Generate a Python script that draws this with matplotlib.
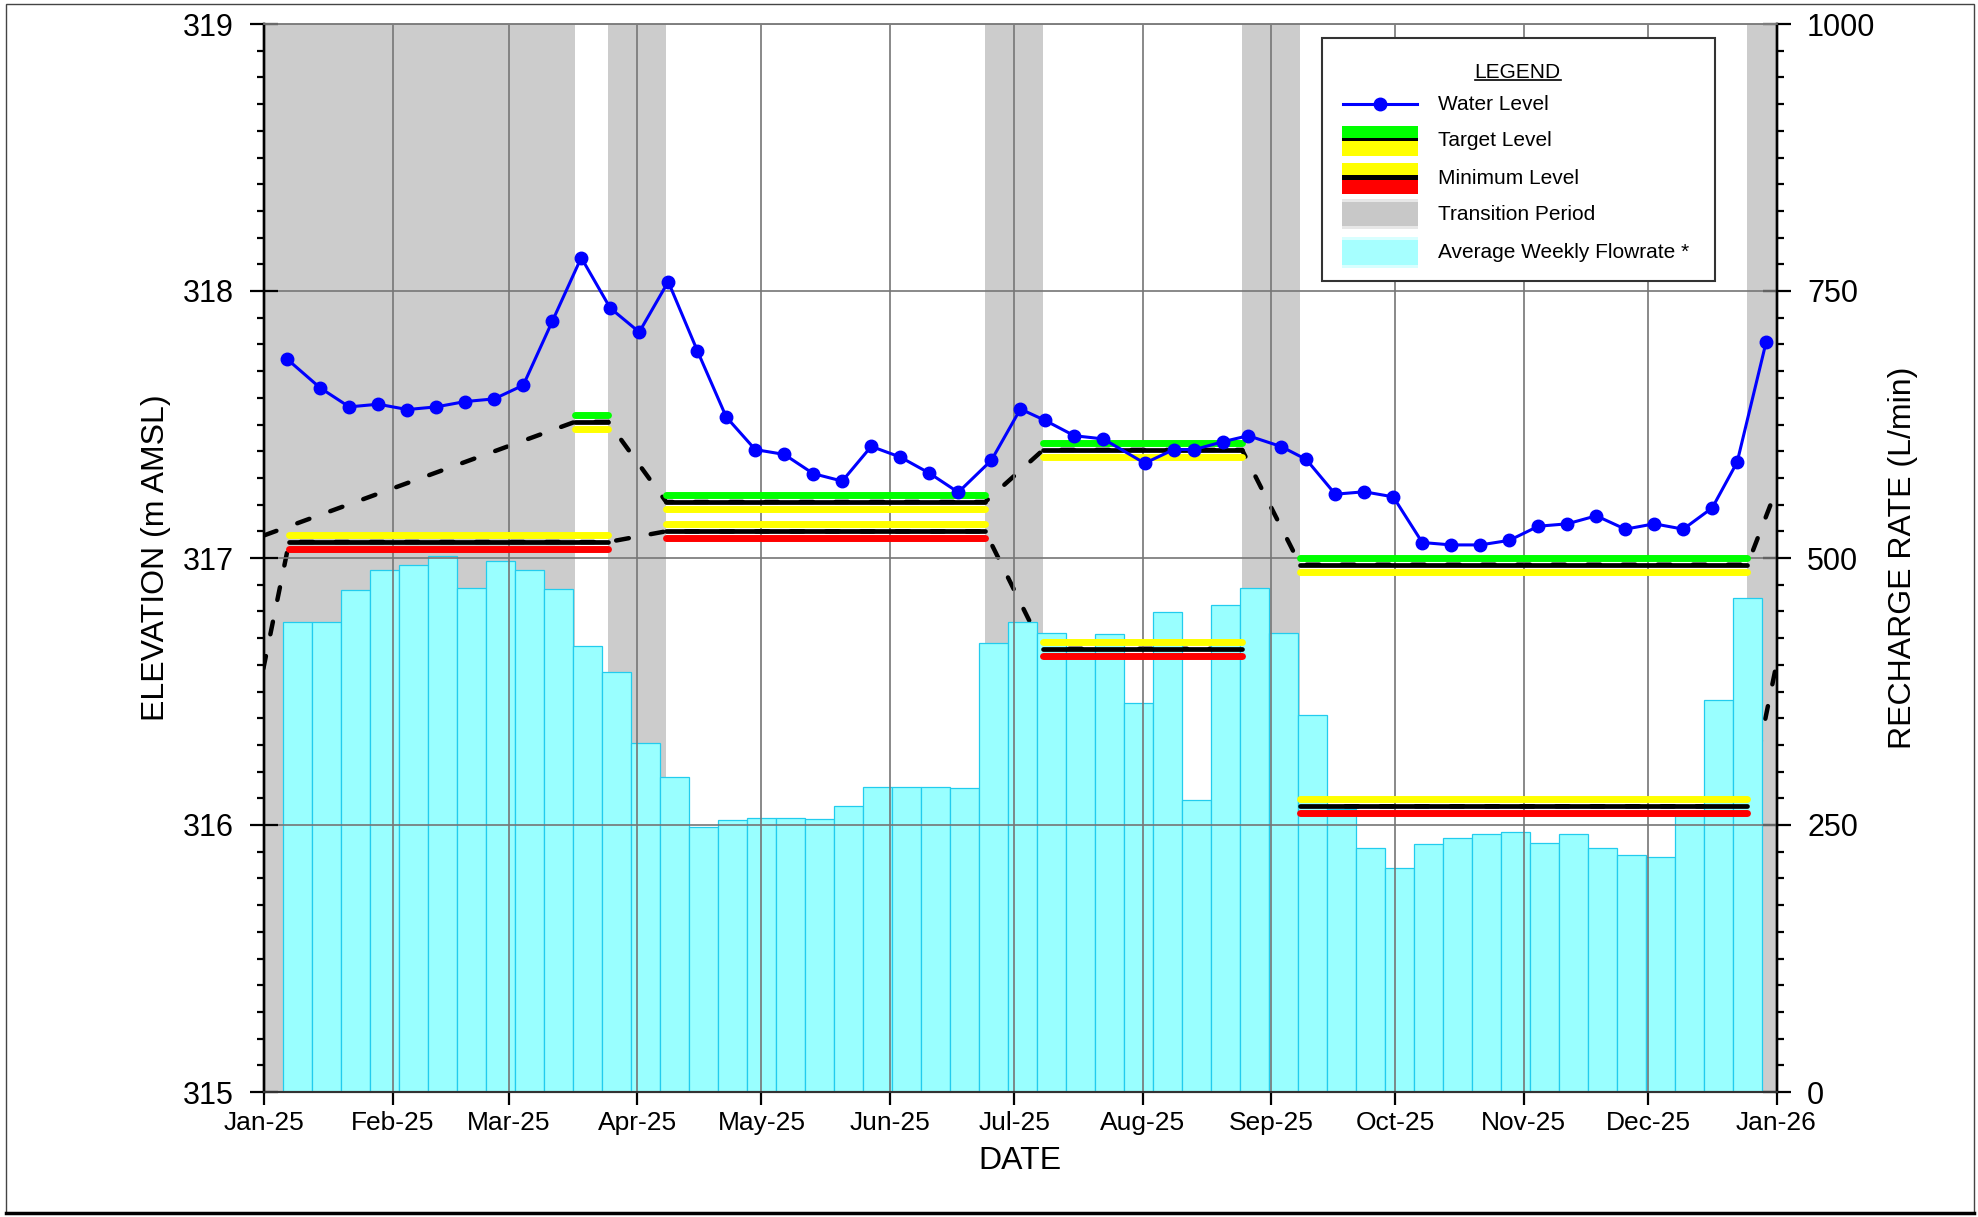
#! /usr/bin/env python3

import pandas as pd
import matplotlib
matplotlib.use('Agg')
import matplotlib.pyplot as plt
import matplotlib.dates as mdates
from matplotlib.patches import Rectangle
from matplotlib.lines import Line2D
from matplotlib.ticker import MultipleLocator
from matplotlib.transforms import offset_copy

plt.rcParams['font.family'] = ['Liberation Sans', 'DejaVu Sans']

# weekly water level readings (m AMSL)
level_dates = ['2025-01-06', '2025-01-14', '2025-01-21', '2025-01-28', '2025-02-04',
               '2025-02-11', '2025-02-18', '2025-02-25', '2025-03-04', '2025-03-11',
               '2025-03-18', '2025-03-25', '2025-04-01', '2025-04-08', '2025-04-15',
               '2025-04-22', '2025-04-29', '2025-05-06', '2025-05-13', '2025-05-20',
               '2025-05-27', '2025-06-03', '2025-06-10', '2025-06-17', '2025-06-25',
               '2025-07-02', '2025-07-08', '2025-07-15', '2025-07-22', '2025-08-01',
               '2025-08-08', '2025-08-13', '2025-08-20', '2025-08-26', '2025-09-03',
               '2025-09-09', '2025-09-16', '2025-09-23', '2025-09-30', '2025-10-07',
               '2025-10-14', '2025-10-21', '2025-10-28', '2025-11-04', '2025-11-11',
               '2025-11-18', '2025-11-25', '2025-12-02', '2025-12-09', '2025-12-16',
               '2025-12-22', '2025-12-29']
level_values = [317.745, 317.637, 317.566, 317.576, 317.556,
                317.566, 317.586, 317.596, 317.647, 317.886,
                318.125, 317.936, 317.846, 318.035, 317.777,
                317.528, 317.406, 317.388, 317.316, 317.288,
                317.418, 317.378, 317.318, 317.246, 317.366,
                317.558, 317.515, 317.458, 317.446, 317.355,
                317.406, 317.406, 317.436, 317.458, 317.417,
                317.369, 317.239, 317.248, 317.229, 317.058,
                317.049, 317.049, 317.066, 317.119, 317.128,
                317.158, 317.108, 317.128, 317.108, 317.188,
                317.359, 317.809]

# average weekly recharge flowrate (L/min), weeks starting on Sunday
week_starts = pd.date_range('2025-01-05', periods=51, freq='7D')
flow_rates = [440, 440, 470, 489, 493, 502, 472, 497, 489, 471,
              418, 393, 327, 295, 248, 255, 257, 257, 256, 268,
              286, 286, 286, 285, 420, 440, 430, 416, 429, 364,
              449, 273, 456, 472, 430, 353, 265, 228, 210, 232,
              238, 242, 243, 233, 242, 228, 222, 220, 262, 367,
              463]

# transition periods
transition_start = ['2025-01-01', '2025-03-25', '2025-06-24', '2025-08-25', '2025-12-25']
transition_end = ['2025-03-17', '2025-04-08', '2025-07-08', '2025-09-08', '2026-01-01']

# target and minimum levels per operating period
target_start = ['2025-03-17', '2025-04-08', '2025-07-08', '2025-09-08']
target_end = ['2025-03-25', '2025-06-24', '2025-08-25', '2025-12-25']
target_level = [317.51, 317.21, 317.405, 316.975]
minimum_start = ['2025-01-07', '2025-04-08', '2025-07-08', '2025-09-08']
minimum_end = ['2025-03-25', '2025-06-24', '2025-08-25', '2025-12-25']
minimum_level = [317.06, 317.10, 316.66, 316.07]

# dashed paths of the levels through the transitions
target_path_dates = ['2025-01-01', '2025-03-17', '2025-03-25', '2025-04-08', '2025-06-24',
                     '2025-07-08', '2025-08-25', '2025-09-08', '2025-12-25', '2026-01-07']
target_path_values = [317.085, 317.51, 317.51, 317.21, 317.21,
                      317.405, 317.405, 316.975, 316.975, 317.5]
minimum_path_dates = ['2024-12-25', '2025-01-07', '2025-03-25', '2025-04-08', '2025-06-24',
                      '2025-07-08', '2025-08-25', '2025-09-08', '2025-12-25', '2026-01-07']
minimum_path_values = [316.07, 317.06, 317.06, 317.10, 317.10,
                       316.66, 316.66, 316.07, 316.07, 317.06]

W, H = 1978, 1217
GRAY = '#CCCCCC'
CYAN = '#99FFFF'


def to_num(dates, shift_hours=0):
    return mdates.date2num(pd.to_datetime(dates) + pd.Timedelta(hours=shift_hours))


def pos(x, y):
    # pixel position (from top-left) to figure fraction
    return x / W, 1 - y / H


fig = plt.figure(figsize=(W / 100, H / 100), dpi=100)
ax = fig.add_axes([264.3 / W, 1 - 1092 / H, 1512.2 / W, 1068 / H])
ax2 = ax.twinx()
ax.set_zorder(ax2.get_zorder() + 1)
ax.patch.set_visible(False)
ax2.patch.set_visible(True)
ax2.patch.set_facecolor('white')

x0 = mdates.date2num(pd.Timestamp('2025-01-01'))
x1 = mdates.date2num(pd.Timestamp('2026-01-01'))

# shaded transitions, dashed level paths and flow bars on the lower axes
for s, e in zip(transition_start, transition_end):
    ax2.axvspan(to_num([s])[0], to_num([e])[0], color=GRAY, lw=0, zorder=0.5)

for d, v in [(target_path_dates, target_path_values), (minimum_path_dates, minimum_path_values)]:
    ax2.plot(to_num(d), v, color='black', lw=3.2, linestyle=(0, (2.9, 5.0)),
             dash_capstyle='round', transform=ax.transData, zorder=0.8)

ax2.bar(to_num(week_starts, 12), flow_rates, width=7, align='edge',
        color=CYAN, edgecolor='#22CCEE', linewidth=0.9, zorder=1)

# level bands on the upper axes
up = offset_copy(ax.transData, fig=fig, y=7, units='dots')
down = offset_copy(ax.transData, fig=fig, y=-7, units='dots')


def draw_band(starts, ends, levels, top_color, bottom_color):
    for s, e, lev in zip(starts, ends, levels):
        xs = to_num([s, e])
        ax.plot(xs, [lev, lev], color=top_color, lw=5.0, solid_capstyle='round',
                transform=up, zorder=3)
        ax.plot(xs, [lev, lev], color=bottom_color, lw=5.0, solid_capstyle='round',
                transform=down, zorder=3)
        ax.plot(xs, [lev, lev], color='black', lw=3.4, solid_capstyle='round', zorder=3.2)


draw_band(target_start, target_end, target_level, '#00FF00', '#FFFF00')
draw_band(minimum_start, minimum_end, minimum_level, '#FFFF00', '#FF0000')

ax.plot(to_num(level_dates, 12), level_values, '-o', color='#0000FF', lw=2.2,
        markersize=9, zorder=5)

# axes setup
ax.set_xlim(x0, x1)
ax.set_ylim(315, 319)
ax2.set_ylim(0, 1000)
ax.xaxis.set_major_locator(mdates.MonthLocator())
ax.xaxis.set_major_formatter(mdates.DateFormatter('%b-%y'))
ax.yaxis.set_major_locator(MultipleLocator(1))
ax.yaxis.set_minor_locator(MultipleLocator(0.1))
ax2.yaxis.set_major_locator(MultipleLocator(250))
ax2.yaxis.set_minor_locator(MultipleLocator(25))

ax.grid(True, which='major', color='#767676', lw=1.2)

ax.tick_params(axis='y', which='major', direction='inout', length=20, width=1.6,
               labelsize=22, pad=12)
ax.tick_params(axis='y', which='minor', direction='out', length=5, width=1.6)
ax2.tick_params(axis='y', which='major', direction='inout', length=20, width=1.6,
                labelsize=22, pad=12)
ax2.tick_params(axis='y', which='minor', direction='out', length=5, width=1.6)
ax.tick_params(axis='x', which='major', direction='out', length=9.5, width=1.6,
               labelsize=19, pad=4)

for a in (ax, ax2):
    a.spines['left'].set_color('black')
    a.spines['left'].set_linewidth(1.7)
    a.spines['right'].set_color('black')
    a.spines['right'].set_linewidth(1.7)
    a.spines['top'].set_color('#808080')
    a.spines['top'].set_linewidth(1.2)
    a.spines['bottom'].set_color('#333333')
    a.spines['bottom'].set_linewidth(1.5)

ax.set_ylabel('ELEVATION (m AMSL)', fontsize=23)
ax.yaxis.set_label_coords(-0.062, 0.5)
ax.set_xlabel('DATE', fontsize=23)
ax.xaxis.set_label_coords(0.5, -0.051)
ax2.set_ylabel('RECHARGE RATE (L/min)', fontsize=23)
ax2.yaxis.set_label_coords(1.074, 0.5)

# legend box
tf = fig.transFigure
fig.add_artist(Rectangle(pos(1322, 281), (1715 - 1322) / W, (281 - 38) / H, transform=tf,
                         facecolor='white', edgecolor='#333333', lw=1.5, zorder=10))
fig.text(*pos(1517, 72), 'LEGEND', fontsize=15, ha='center', va='center', zorder=11)
fig.add_artist(Line2D([1475 / W, 1561 / W], [1 - 80 / H] * 2, transform=tf,
                      color='black', lw=1.2, zorder=11))

hx0, hx1 = 1342, 1418
fig.add_artist(Line2D([1343 / W, 1417 / W], [1 - 104 / H] * 2, transform=tf,
                      color='#0000FF', lw=2.2, zorder=11))
fig.add_artist(Line2D([1380 / W], [1 - 104 / H], transform=tf, marker='o',
                      color='#0000FF', markersize=9, zorder=11))


def handle_rect(y_top, y_bot, color, alpha=1.0):
    fig.add_artist(Rectangle(pos(hx0, y_bot), (hx1 - hx0) / W, (y_bot - y_top) / H,
                             transform=tf, facecolor=color, edgecolor='none',
                             alpha=alpha, zorder=11))


handle_rect(126, 137.5, '#00FF00')
handle_rect(137.5, 141.5, 'black')
handle_rect(141.5, 156, '#FFFF00')
handle_rect(162.5, 175, '#FFFF00')
handle_rect(175, 179.5, 'black')
handle_rect(179.5, 193.5, '#FF0000')
handle_rect(199, 229, '#D8D8D8', 0.6)
handle_rect(202, 226, '#C8C8C8')
handle_rect(237, 268, '#BFFFFF', 0.6)
handle_rect(240, 265, '#A6FFFF')

legend_labels = ['Water Level', 'Target Level', 'Minimum Level', 'Transition Period',
                 'Average Weekly Flowrate *']
for i, lab in enumerate(legend_labels):
    fig.text(*pos(1438, 104 + i * 37), lab, fontsize=15, ha='left', va='center', zorder=11)

# outer frame
fig.add_artist(Rectangle(pos(6, 1213), (1974 - 6) / W, (1213 - 4) / H, transform=tf,
                         fill=False, edgecolor='#444444', lw=1, zorder=12))
fig.add_artist(Line2D([6 / W, 1974 / W], [1 - 1213 / H] * 2, transform=tf,
                      color='black', lw=2.5, zorder=12))

fig.savefig('out.png', dpi=100)
